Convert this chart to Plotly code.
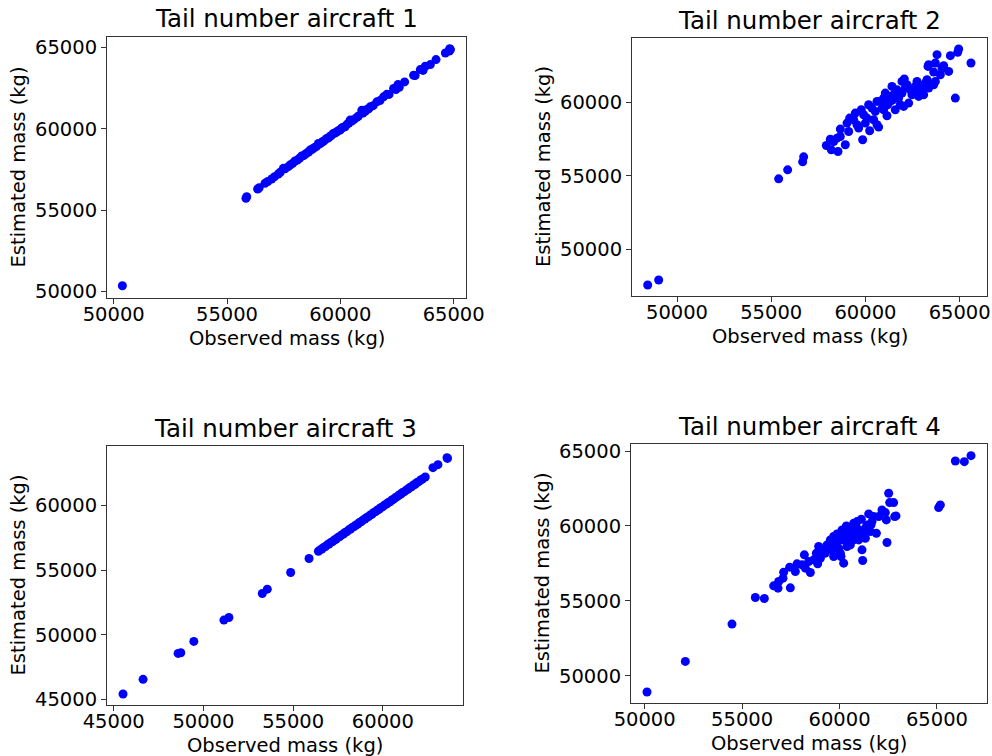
import plotly.graph_objects as go

# ---------------- data ----------------
titles = ["Tail number aircraft 1", "Tail number aircraft 2",
          "Tail number aircraft 3", "Tail number aircraft 4"]
x_label = "Observed mass (kg)"
y_label = "Estimated mass (kg)"

obs_1 = [50383, 55836, 55870, 56351, 56420, 56675, 56800, 56970, 57100, 57264,
         57350, 57485, 57560, 57706, 57800, 57900, 58000, 58100, 58200, 58295,
         58380, 58450, 58530, 58600, 58664, 58740, 58800, 58870, 58950, 59032,
         59100, 59170, 59240, 59300, 59400, 59460, 59530, 59600, 59695, 59760,
         59830, 59900, 59990, 60050, 60120, 60211, 60300, 60380, 60432, 60500,
         60600, 60729, 60800, 60950, 61000, 61100, 61171, 61250, 61318, 61450,
         61613, 61750, 61908, 62055, 62150, 62350, 62450, 62541, 62600, 62836,
         63234, 63300, 63529, 63650, 63750, 63971, 64222, 64635, 64811, 64826,
         64860]
est_1 = [50348, 55729, 55820, 56302, 56380, 56650, 56760, 56916, 57060, 57223,
         57330, 57571, 57540, 57673, 57790, 57880, 58021, 58080, 58190, 58328,
         58350, 58440, 58520, 58580, 58696, 58720, 58790, 58860, 58920, 59106,
         59080, 59160, 59220, 59290, 59413, 59440, 59510, 59590, 59720, 59740,
         59810, 59880, 59925, 60040, 60100, 60130, 60290, 60360, 60540, 60480,
         60580, 60704, 60790, 61154, 60980, 61080, 61195, 61240, 61357, 61430,
         61664, 61740, 61970, 62134, 62120, 62482, 62420, 62728, 62560, 62892,
         63300, 63280, 63648, 63600, 63853, 63956, 64263, 64672, 64795, 64939,
         64880]

obs_2 = [48444, 49027, 55394, 55872, 56668, 56721, 57924, 58136, 58189, 58543,
         58489, 58931, 58666, 59162, 59109, 59462, 59639, 59851, 59780, 59993,
         60170, 60223, 60081, 60435, 60612, 60700, 60612, 60877, 60965, 61142,
         61054, 61319, 61407, 61496, 61584, 61673, 61850, 61938, 62027, 62062,
         62115, 62292, 62469, 62558, 62735, 62823, 63000, 63089, 63177, 63266,
         63354, 63443, 63319, 63354, 63620, 63709, 63797, 63974, 64062, 64151,
         64416, 64505, 64769, 64893, 64946, 65600, 59373, 59550, 59020, 59904,
         60346, 60523, 60788, 60965, 61178, 61284, 61461, 61761, 61938, 62204,
         62381, 62646, 62912, 63620, 63709, 58666, 58313]
est_2 = [47574, 47914, 54784, 55397, 55941, 56281, 57052, 57483, 56757, 56644,
         57551, 57098, 58163, 58912, 58004, 59252, 58231, 57438, 59478, 58571,
         59819, 58050, 58912, 58798, 58458, 58299, 60045, 59592, 60272, 59070,
         60612, 60045, 61066, 60499, 59478, 60839, 59819, 61406, 59705, 61565,
         60952, 59932, 60499, 60726, 61406, 60385, 60726, 60499, 61293, 61519,
         60952, 61179, 62426, 62540, 62041, 62653, 63220, 61860, 62313, 62472,
         62086, 63152, 60272, 63379, 63605, 62653, 58798, 58458, 58571, 59138,
         59592, 59365, 60045, 59478, 59819, 60385, 60159, 60272, 60612, 61179,
         60839, 61066, 60952, 61179, 61406, 57665, 57324]

obs_3 = [45521, 46638, 48591, 48740, 49466, 51141, 51420, 53281, 53560, 54862,
         55886, 56407, 56500, 56600, 56700, 56800, 56900, 57000, 57100, 57200,
         57300, 57400, 57500, 57600, 57700, 57800, 57900, 58000, 58100, 58200,
         58300, 58400, 58500, 58600, 58700, 58800, 58900, 59000, 59100, 59200,
         59300, 59400, 59500, 59600, 59700, 59800, 59900, 60000, 60100, 60200,
         60300, 60400, 60500, 60600, 60700, 60800, 60900, 61000, 61100, 61200,
         61300, 61400, 61500, 61600, 61700, 61800, 61900, 62000, 62100, 62200,
         62361, 62790, 63069, 63572, 63600]
est_3 = [45412, 46546, 48557, 48608, 49485, 51134, 51340, 53196, 53531, 54820,
         55902, 56469, 56570, 56640, 56760, 56830, 56960, 57030, 57150, 57220,
         57340, 57410, 57540, 57600, 57730, 57800, 57920, 57990, 58120, 58190,
         58310, 58380, 58500, 58570, 58690, 58770, 58890, 58960, 59080, 59150,
         59270, 59340, 59470, 59540, 59660, 59730, 59850, 59920, 60050, 60110,
         60240, 60300, 60430, 60500, 60620, 60690, 60820, 60890, 61010, 61080,
         61200, 61270, 61400, 61460, 61590, 61650, 61790, 61850, 61980, 62050,
         62216, 62938, 63170, 63711, 63650]

obs_4 = [50120, 52087, 54482, 55679, 56141, 56620, 56842, 56877, 57099, 57133,
         57475, 57441, 57732, 57818, 58075, 58195, 58246, 58417, 58502, 58810,
         58879, 58930, 59015, 59186, 59272, 59357, 59528, 59614, 59699, 59785,
         59870, 59956, 60075, 60127, 60212, 60298, 60349, 60383, 60469, 60554,
         60640, 60725, 60811, 60896, 60982, 61068, 61119, 61153, 61187, 61239,
         61324, 61410, 61495, 61581, 61666, 61752, 61889, 62008, 62179, 62350,
         62401, 62435, 62521, 62572, 62778, 62829, 62897, 65087, 65173, 65943,
         66405, 66747, 58673, 59015, 59443, 59699, 60041, 60383, 60725, 60127,
         60896, 61324, 61615, 60041, 59665]
est_4 = [48911, 50956, 53444, 55222, 55156, 56000, 55844, 56289, 56511, 56911,
         55867, 57244, 56956, 57467, 57400, 58067, 57178, 57622, 56889, 58178,
         57467, 58622, 57844, 58400, 58178, 58733, 59067, 58400, 57956, 58844,
         59467, 58511, 57956, 59067, 57511, 59511, 60000, 58622, 59289, 58733,
         59733, 60178, 59289, 59844, 59067, 59400, 60444, 58400, 57689, 59622,
         59178, 60067, 60800, 59622, 60289, 60622, 59511, 60622, 61067, 60889,
         60400, 58889, 62178, 61556, 61556, 60622, 60667, 61222, 61400, 64333,
         64289, 64689, 57733, 58289, 58511, 59289, 59178, 59067, 59067, 59733,
         60289, 59844, 60067, 58178, 58733]

x_ranges = [[49705, 65545], [47612, 66450], [44628, 64464], [49299, 67567]]
y_ranges = [[49591, 65655], [46825, 64354], [44562, 64613], [48178, 65467]]
x_ticks = [[50000, 55000, 60000, 65000], [50000, 55000, 60000, 65000],
           [45000, 50000, 55000, 60000], [50000, 55000, 60000, 65000]]
y_ticks = [[50000, 55000, 60000, 65000], [50000, 55000, 60000],
           [45000, 50000, 55000, 60000], [50000, 55000, 60000, 65000]]

# ---------------- layout geometry (pixels) ----------------
W, H = 992, 756
# left, right, top, bottom of each plot area
boxes = [(107, 466, 37, 298), (632, 987, 38, 296),
         (107, 463, 446, 705), (631, 987, 444, 703)]

FONT = "DejaVu Sans"
data_sets = [(obs_1, est_1), (obs_2, est_2), (obs_3, est_3), (obs_4, est_4)]

fig = go.Figure()
annotations = []
layout = dict(
    width=W, height=H,
    margin=dict(l=0, r=0, t=0, b=0, pad=0, autoexpand=False),
    paper_bgcolor="white", plot_bgcolor="white",
    showlegend=False,
    font=dict(family=FONT, size=19.5, color="black"),
)

for i, (xs, ys) in enumerate(data_sets):
    n = "" if i == 0 else str(i + 1)
    fig.add_trace(go.Scatter(
        x=xs, y=ys, mode="markers",
        marker=dict(color="#0000ff", size=9, line=dict(width=0)),
        xaxis="x" + n, yaxis="y" + n,
    ))
    l, r, t, b = boxes[i]
    axcommon = dict(
        showgrid=False, zeroline=False, showline=True, mirror=True,
        linecolor="#333333", linewidth=1, automargin=False,
        ticks="outside", ticklen=5, tickwidth=1, tickcolor="#333333",
        tickfont=dict(family=FONT, size=19.5, color="black"),
        tickformat="d",
    )
    layout["xaxis" + n] = dict(
        axcommon, domain=[l / W, r / W], range=x_ranges[i],
        tickvals=x_ticks[i], anchor="y" + n, ticklabelstandoff=-6,
    )
    layout["yaxis" + n] = dict(
        axcommon, domain=[1 - b / H, 1 - t / H], range=y_ranges[i],
        tickvals=y_ticks[i], anchor="x" + n,
    )
    cx = (l + r) / 2 / W
    annotations.append(dict(
        text=titles[i], x=cx, y=1 - (t - 18) / H, xref="paper", yref="paper",
        xanchor="center", yanchor="middle", showarrow=False,
        font=dict(family=FONT, size=24.5, color="black"),
    ))
    annotations.append(dict(
        text=x_label, x=cx, y=1 - (b + 40) / H, xref="paper", yref="paper",
        xanchor="center", yanchor="middle", showarrow=False,
        font=dict(family=FONT, size=19.5, color="black"),
    ))
    annotations.append(dict(
        text=y_label, x=(l - 89) / W, y=1 - (t + b) / 2 / H,
        xref="paper", yref="paper",
        xanchor="center", yanchor="middle", showarrow=False, textangle=-90,
        font=dict(family=FONT, size=19.5, color="black"),
    ))

layout["annotations"] = annotations
fig.update_layout(**layout)
fig.write_html("out.html")
